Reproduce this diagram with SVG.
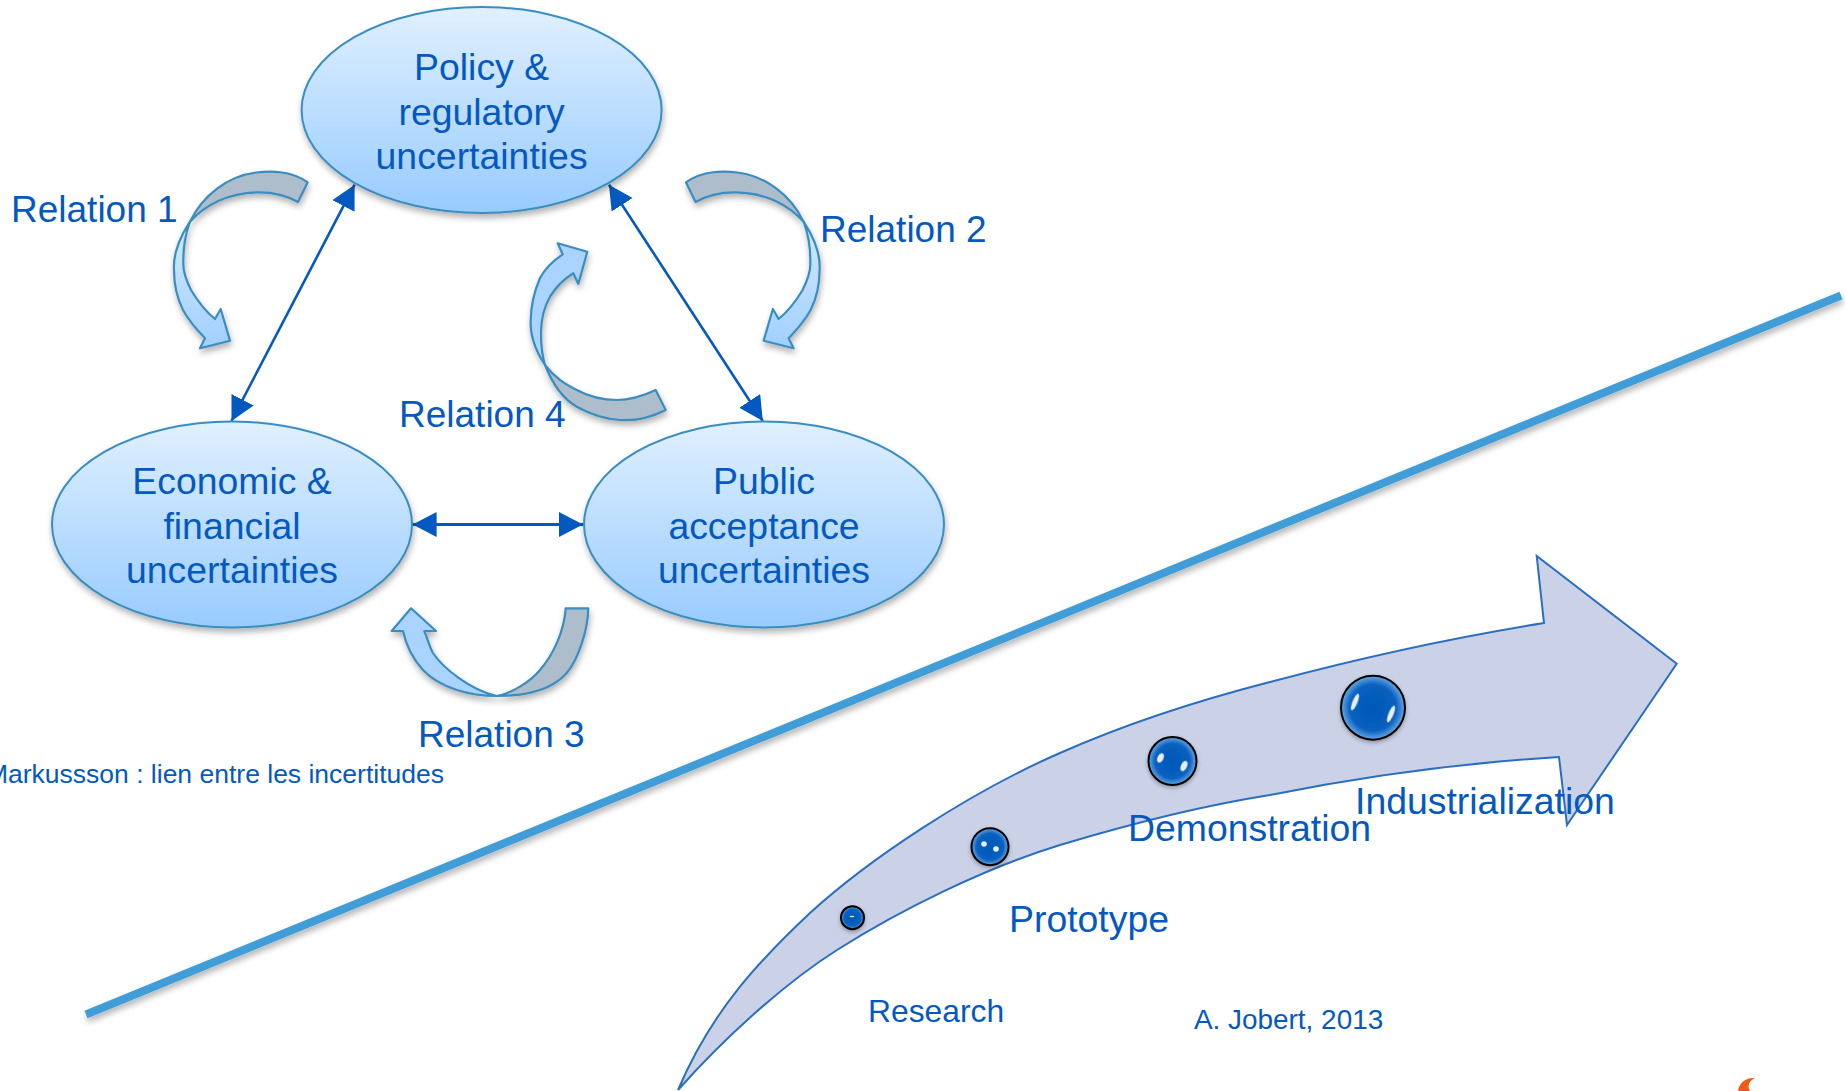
<svg xmlns="http://www.w3.org/2000/svg" width="1845" height="1091" viewBox="0 0 1845 1091">
<style>
text{font-family:"Liberation Sans",Arial,sans-serif;fill:#0459c0;font-size:37.4px}
.m{text-anchor:middle}
.rel{font-size:37px}
.node{fill:url(#ng);stroke:#3a8dc0;stroke-width:2;filter:url(#sh)}
.band{fill:#aebdcc;stroke:#3a8dc0;stroke-width:2.2;stroke-linejoin:round}
.head{fill:url(#ag);stroke:#3a8dc0;stroke-width:2.2;stroke-linejoin:round}
.flat{fill:#aad4ff}
.conn{stroke:#0459c0;stroke-width:2.6;fill:none;marker-start:url(#tri);marker-end:url(#tri)}
.ball{fill:url(#bg);stroke:#000;stroke-width:2;filter:url(#sh2)}
.hl{fill:#fff;opacity:.9;filter:url(#bl)}
</style>
<defs>
<linearGradient id="ng" x1="0" y1="0" x2="0" y2="1"><stop offset="0" stop-color="#e0f0ff"/><stop offset="1" stop-color="#98cbff"/></linearGradient>
<linearGradient id="ag" x1="0" y1="0" x2="0" y2="1"><stop offset="0" stop-color="#d4e9ff"/><stop offset="1" stop-color="#a0d0ff"/></linearGradient>
<radialGradient id="bg" cx=".5" cy=".5" r=".5"><stop offset="0" stop-color="#0558b8"/><stop offset=".72" stop-color="#0760bf"/><stop offset="1" stop-color="#6aa9e4"/></radialGradient>
<filter id="sh" x="-15%" y="-15%" width="130%" height="135%"><feDropShadow dx="1" dy="4" stdDeviation="3" flood-color="#000" flood-opacity=".3"/></filter>
<filter id="sh2" x="-30%" y="-30%" width="160%" height="170%"><feDropShadow dx="0" dy="2" stdDeviation="2" flood-color="#000" flood-opacity=".3"/></filter>
<filter id="bl" x="-60%" y="-60%" width="220%" height="220%"><feGaussianBlur stdDeviation=".7"/></filter>
<marker id="tri" markerUnits="userSpaceOnUse" markerWidth="26" markerHeight="26" refX="24" refY="12.5" orient="auto-start-reverse"><path d="M0,0L24,12.5L0,25Z" fill="#0459c0"/></marker>
<g id="curl">
<path class="band" d="M307.7,182.3C290,170 270,171 256,172.5C228,176 203,195 190,221.7C205,205 228,193 256.7,192.3C272,192 286,195 298,202Z"/>
<path class="head" d="M190,221.7C178,240 173,255 174,270C174,285 177,298 183,310C189,321 197,330 205,338.3L200,348.3L230,340.7L220.7,309L215,319C205,311 197,300 191,290C186,280 183,272 183.3,263.3C183,250 185,235 190,221.7Z"/>
</g>
</defs>

<rect width="1845" height="1091" fill="#fff"/>

<g id="trend-line"><line x1="86" y1="1014.5" x2="1841" y2="295.5" stroke="#3f9dd8" stroke-width="8" filter="url(#sh)"/></g>

<g id="stage-arrow">
<path d="M678,1090C712,1010 760,960 810,913C868,860 968,793 1060,753C1130,722 1200,700 1270,682C1360,658 1450,638 1544,623L1536.7,556L1676.7,663.8L1567,825L1559,757C1460,763 1360,777 1270,795C1200,806 1130,824 1060,845C985,868 900,910 837,950C785,983 725,1037 678,1090Z" fill="#cbd2e8" stroke="#2a6fbf" stroke-width="2"/>
</g>

<g id="connectors">
<line class="conn" x1="231.5" y1="421" x2="354.6" y2="184.7"/>
<line class="conn" x1="609" y1="184.7" x2="762.8" y2="421"/>
<line class="conn" x1="412.6" y1="524.5" x2="583" y2="524.5" style="stroke-width:3"/>
</g>

<g id="relation-1" filter="url(#sh)"><use href="#curl"/></g>
<g id="relation-2" filter="url(#sh)"><use href="#curl" transform="matrix(-1 0 0 1 993.6 0)"/></g>
<g id="relation-4" filter="url(#sh)">
<path class="band" d="M665.7,410C650,418 635,421 620,420C605,419 590,414 576.7,406.7C562,398 552,383 545,365C555,378 565,384 576.7,390C590,397 603,400 616.7,400C630,400 643,396 655.7,390Z"/>
<path class="head flat" d="M545,365C535,350 530,335 530.7,320C531,305 534,292 540,278C546,267 554,260 562.7,254.3L557.7,243.3L587.3,251.7L578.3,284L573.3,273.3C564,279 556,287 550,296.7C544,307 541,320 541,333.3C541,345 542,355 545,365Z"/>
</g>
<g id="relation-3" filter="url(#sh)">
<path class="band" d="M565.7,608.3H588.3C588,630 578,660 566.7,673C552,690 525,696 496.7,696C512,693 530,682 540,670C553,655 564,632 565.7,608.3Z"/>
<path class="head flat" d="M496.7,696C470,696 440,688 423,670C412,658 406,645 403,631H391.7L411,608.3L436,631H424.3C428,640 430,648 433,653C443,668 470,690 496.7,696Z"/>
</g>

<g id="node-policy"><ellipse class="node" cx="481.6" cy="110" rx="180" ry="103"/>
<text class="m" x="481.6" y="79.5">Policy &amp;</text><text class="m" x="481.6" y="124.5">regulatory</text><text class="m" x="481.6" y="169">uncertainties</text></g>
<g id="node-economic"><ellipse class="node" cx="232" cy="524.5" rx="180" ry="103"/>
<text class="m" x="232" y="493.5">Economic &amp;</text><text class="m" x="232" y="538.5">financial</text><text class="m" x="232" y="583">uncertainties</text></g>
<g id="node-public"><ellipse class="node" cx="764" cy="524.5" rx="180" ry="103"/>
<text class="m" x="764" y="493.5">Public</text><text class="m" x="764" y="538.5">acceptance</text><text class="m" x="764" y="583">uncertainties</text></g>

<g id="ball-1"><circle class="ball" cx="852.5" cy="917.7" r="11.5"/><ellipse class="hl" cx="852" cy="916.5" rx="2.5" ry=".8"/></g>
<g id="ball-2"><circle class="ball" cx="990" cy="846.7" r="18.5"/><circle class="hl" cx="984" cy="844" r="2.8"/><circle class="hl" cx="996" cy="849" r="2.8"/></g>
<g id="ball-3"><circle class="ball" cx="1172.5" cy="761" r="24"/><ellipse class="hl" cx="1160.5" cy="758" rx="3" ry="5" transform="rotate(25 1160.5 758)"/><ellipse class="hl" cx="1184" cy="766" rx="3" ry="5.5" transform="rotate(25 1184 766)"/></g>
<g id="ball-4"><circle class="ball" cx="1373" cy="707.7" r="32"/><ellipse class="hl" cx="1355" cy="702" rx="2.5" ry="9" transform="rotate(22 1355 702)"/><ellipse class="hl" cx="1391" cy="714" rx="2.5" ry="9" transform="rotate(22 1391 714)"/></g>

<g id="labels">
<text class="rel" x="11" y="222">Relation 1</text>
<text class="rel" x="820" y="242">Relation 2</text>
<text class="rel" x="418" y="747">Relation 3</text>
<text class="rel" x="399" y="427">Relation 4</text>
<text x="444" y="782.5" text-anchor="end" style="font-size:26.5px">Markussson : lien entre les incertitudes</text>
<text x="868" y="1022" style="font-size:31.8px">Research</text>
<text x="1009" y="932">Prototype</text>
<text x="1128" y="841">Demonstration</text>
<text x="1355" y="813.5">Industrialization</text>
<text x="1194" y="1029" style="font-size:27.9px">A. Jobert, 2013</text>
</g>

<path id="flame" d="M1755,1078C1746,1077 1739,1083 1738,1091H1750C1747,1086 1749,1081 1755,1078Z" fill="#f15a16"/>
</svg>
